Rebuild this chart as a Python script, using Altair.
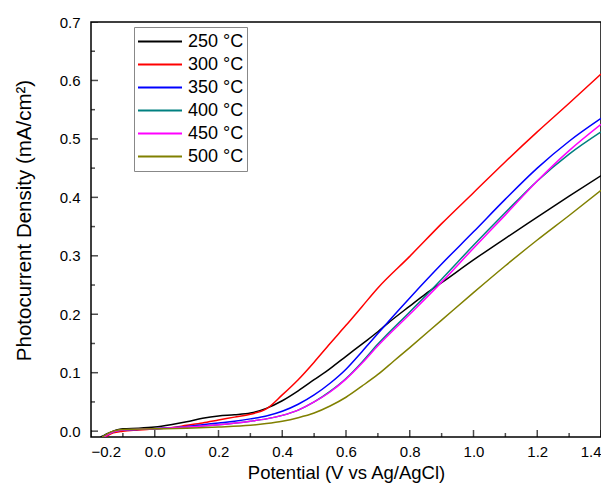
import altair as alt
import pandas as pd

# ---- data ----
series_labels = ["250 °C", "300 °C", "350 °C", "400 °C", "450 °C", "500 °C"]
series_colors = ["#000000", "#ff0000", "#0000ff", "#008080", "#ff00ff", "#808000"]

x_250 = [-0.17, -0.14, -0.12, -0.10, -0.05, 0.00, 0.05, 0.10, 0.15, 0.20, 0.25, 0.30, 0.35, 0.40, 0.45,
         0.50, 0.55, 0.60, 0.65, 0.70, 0.73, 0.80, 0.85, 0.90, 1.00, 1.10, 1.20, 1.30, 1.40]
y_250 = [-0.010, -0.002, 0.002, 0.004, 0.005, 0.007, 0.011, 0.016, 0.022, 0.026, 0.028, 0.031, 0.039, 0.052, 0.069,
         0.088, 0.107, 0.128, 0.149, 0.170, 0.184, 0.214, 0.235, 0.254, 0.293, 0.330, 0.366, 0.402, 0.437]

x_300 = [-0.155, -0.13, -0.10, -0.05, 0.00, 0.05, 0.10, 0.15, 0.20, 0.25, 0.30, 0.35, 0.40, 0.45,
         0.50, 0.55, 0.60, 0.65, 0.70, 0.80, 0.90, 1.00, 1.10, 1.20, 1.30, 1.40]
y_300 = [-0.010, -0.003, 0.000, 0.002, 0.004, 0.006, 0.010, 0.014, 0.019, 0.024, 0.029, 0.038, 0.062, 0.088,
         0.118, 0.150, 0.181, 0.213, 0.245, 0.299, 0.355, 0.408, 0.461, 0.512, 0.561, 0.611]

x_350 = [-0.165, -0.13, -0.10, 0.00, 0.10, 0.15, 0.20, 0.25, 0.30, 0.35, 0.40, 0.45,
         0.50, 0.55, 0.60, 0.65, 0.70, 0.75, 0.80, 0.90, 1.00, 1.10, 1.20, 1.30, 1.40]
y_350 = [-0.010, -0.001, 0.002, 0.004, 0.008, 0.011, 0.014, 0.017, 0.021, 0.026, 0.034, 0.046,
         0.062, 0.082, 0.106, 0.136, 0.167, 0.198, 0.228, 0.286, 0.341, 0.397, 0.450, 0.496, 0.535]

x_400 = [-0.16, -0.13, -0.10, 0.00, 0.10, 0.20, 0.30, 0.35, 0.40, 0.45,
         0.50, 0.55, 0.60, 0.65, 0.70, 0.80, 0.90, 1.00, 1.10, 1.20, 1.30, 1.40]
y_400 = [-0.010, -0.001, 0.002, 0.004, 0.007, 0.011, 0.017, 0.021, 0.027, 0.036,
         0.050, 0.068, 0.090, 0.118, 0.149, 0.204, 0.260, 0.318, 0.374, 0.428, 0.474, 0.512]

x_450 = [-0.16, -0.13, -0.10, 0.00, 0.10, 0.20, 0.30, 0.35, 0.40, 0.45,
         0.50, 0.55, 0.60, 0.65, 0.70, 0.80, 0.90, 1.00, 1.10, 1.20, 1.30, 1.40]
y_450 = [-0.010, -0.001, 0.002, 0.004, 0.007, 0.011, 0.017, 0.021, 0.027, 0.036,
         0.050, 0.067, 0.089, 0.116, 0.146, 0.200, 0.255, 0.313, 0.370, 0.428, 0.480, 0.525]

x_500 = [-0.165, -0.13, -0.10, 0.00, 0.10, 0.20, 0.30, 0.35, 0.40, 0.45,
         0.50, 0.55, 0.60, 0.65, 0.70, 0.75, 0.80, 0.90, 1.00, 1.10, 1.20, 1.30, 1.40]
y_500 = [-0.010, 0.000, 0.003, 0.004, 0.005, 0.007, 0.010, 0.013, 0.017, 0.023,
         0.031, 0.043, 0.058, 0.077, 0.097, 0.120, 0.143, 0.190, 0.237, 0.283, 0.327, 0.369, 0.412]

x_major = [-0.2, 0.0, 0.2, 0.4, 0.6, 0.8, 1.0, 1.2, 1.4]
x_minor = [-0.1, 0.1, 0.3, 0.5, 0.7, 0.9, 1.1, 1.3]
y_major = [0.0, 0.1, 0.2, 0.3, 0.4, 0.5, 0.6, 0.7]
y_minor = [0.05, 0.15, 0.25, 0.35, 0.45, 0.55, 0.65]

all_x = [x_250, x_300, x_350, x_400, x_450, x_500]
all_y = [y_250, y_300, y_350, y_400, y_450, y_500]

rows = []
for lab, xs, ys in zip(series_labels, all_x, all_y):
    for i, (a, b) in enumerate(zip(xs, ys)):
        rows.append({"V": a, "J": b, "T": lab, "i": i})
df = pd.DataFrame(rows)

FONT = "Liberation Sans"
W, H = 510, 415
X_DOM = [-0.2, 1.4]
Y_DOM = [-0.01, 0.7]
MAJOR_PX, MINOR_PX = 7, 4

xt_df = pd.DataFrame({"x": x_major + x_minor, "y": [Y_DOM[0]] * (len(x_major) + len(x_minor)),
                      "major": [1] * len(x_major) + [0] * len(x_minor)})
yt_df = pd.DataFrame({"x": [X_DOM[0]] * (len(y_major) + len(y_minor)), "y": y_major + y_minor,
                      "major": [1] * len(y_major) + [0] * len(y_minor)})

xscale = alt.Scale(domain=X_DOM, nice=False, zero=False)
yscale = alt.Scale(domain=Y_DOM, nice=False, zero=False)

xaxis = alt.Axis(orient="bottom", values=x_major, format=".1f", ticks=False,
                 domain=False, grid=False,
                 labelPadding=7, labelFontSize=15, labelFont=FONT, labelColor="black",
                 title="Potential (V vs Ag/AgCl)", titleFontSize=18.5, titleFont=FONT,
                 titleFontWeight="normal", titleColor="black", titlePadding=4)
yaxis = alt.Axis(orient="left", values=y_major, format=".1f", ticks=False,
                 domain=False, grid=False,
                 labelPadding=11, labelFontSize=15, labelFont=FONT, labelColor="black",
                 title="Photocurrent Density (mA/cm²)", titleFontSize=20.5, titleFont=FONT,
                 titleFontWeight="normal", titleColor="black", titlePadding=25, titleY=198)

size_scale = alt.Scale(domain=[0, 1], range=[2 * MINOR_PX, 2 * MAJOR_PX])

x_ticks = alt.Chart(xt_df).mark_tick(orient="vertical", thickness=1.5, color="black", clip=True).encode(
    x=alt.X("x:Q", scale=xscale, axis=xaxis),
    y=alt.Y("y:Q", scale=yscale, axis=yaxis),
    size=alt.Size("major:Q", scale=size_scale, legend=None),
)
y_ticks = alt.Chart(yt_df).mark_tick(orient="horizontal", thickness=1.5, color="black", clip=True).encode(
    x=alt.X("x:Q", scale=xscale, axis=xaxis),
    y=alt.Y("y:Q", scale=yscale, axis=yaxis),
    size=alt.Size("major:Q", scale=size_scale, legend=None),
)

lines = alt.Chart(df).mark_line(strokeWidth=1.5, interpolate="monotone", clip=True).encode(
    x=alt.X("V:Q", scale=xscale, axis=xaxis),
    y=alt.Y("J:Q", scale=yscale, axis=yaxis),
    color=alt.Color("T:N", scale=alt.Scale(domain=series_labels, range=series_colors),
                    legend=alt.Legend(orient="none", legendX=43, legendY=5, title=None,
                                      symbolType="stroke", symbolSize=1936, symbolStrokeWidth=2,
                                      clipHeight=23, rowPadding=0, labelFontSize=18, labelFont=FONT,
                                      labelColor="black", labelOffset=5, strokeColor="#888888",
                                      fillColor="white", padding=3)),
    order="i:Q",
)

chart = alt.layer(lines, x_ticks, y_ticks).resolve_scale(size="independent").properties(
    width=W, height=H,
    padding={"left": 6, "top": 7, "right": 0, "bottom": 5},
).configure_view(stroke="black", strokeWidth=1.5)

chart.save("out.html", embed_options={"renderer": "svg", "actions": False})
